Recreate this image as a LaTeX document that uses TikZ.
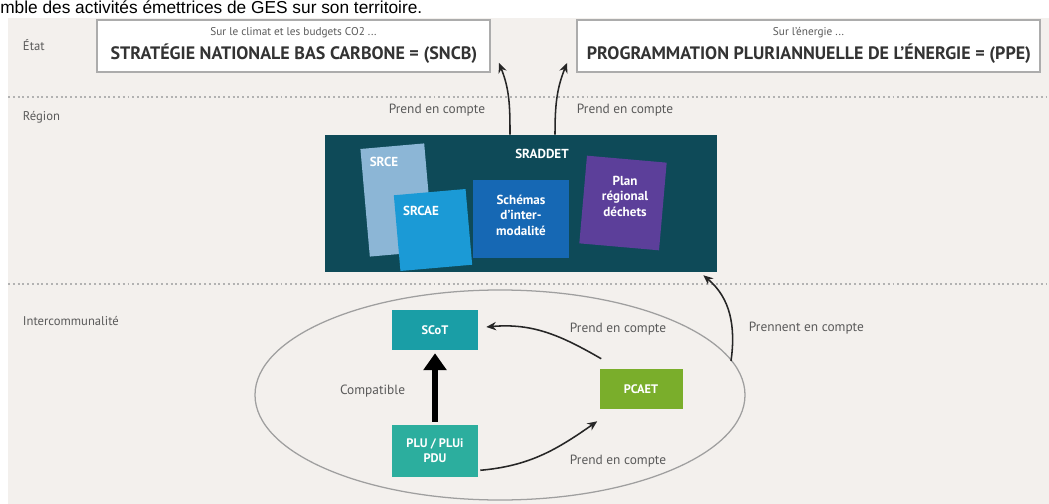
\documentclass[tikz,border=0pt]{standalone}
\usepackage{fontspec}
\setmainfont{PT Sans}
\newfontfamily\arialf{Liberation Sans}
\usetikzlibrary{arrows.meta}
\def\PX{0.025cm}
\definecolor{bgc}{HTML}{F3F0ED}
\definecolor{labc}{HTML}{5A5A5A}
\definecolor{sradc}{HTML}{0E4A58}
\definecolor{srcec}{HTML}{8CB6D6}
\definecolor{srcaec}{HTML}{1B9AD6}
\definecolor{schc}{HTML}{1668B4}
\definecolor{planc}{HTML}{5C3F9A}
\definecolor{scotc}{HTML}{1A9EA6}
\definecolor{pluc}{HTML}{2CAE9E}
\definecolor{pcaetc}{HTML}{7AAE2B}
\tikzset{
  lvl/.style={anchor=west, text=labc, font=\fontsize{9}{10}\selectfont},
  lab/.style={text=labc, font=\fontsize{9.5}{11}\selectfont},
  topbox/.style={draw=gray!65, line width=1.3pt, fill=white, align=center, inner sep=0pt},
  bigt/.style={text=black!80, font=\bfseries\fontsize{12.8}{14}\selectfont},
  smallt/.style={text=labc, font=\fontsize{8}{9}\selectfont},
  sub/.style={white, font=\bfseries\fontsize{9.3}{11}\selectfont, align=center},
  card/.style={inner sep=0pt, align=center},
  ibox/.style={inner sep=0pt, text=white, font=\bfseries\fontsize{8.8}{10.5}\selectfont, align=center},
  conn/.style={-{Stealth[length=7pt,width=6pt]}, line width=1.1pt, black!85},
  sep/.style={gray!60, dotted, line width=1.4pt}
}
\begin{document}
\begin{tikzpicture}[x=0.025cm, y=-0.025cm]
\useasboundingbox (0,0) rectangle (1049,504);
\fill[white] (0,0) rectangle (1049,504);
\fill[bgc] (8,18) rectangle (1049,504);
% top text
\node[anchor=base west, inner sep=0pt, font=\arialf\fontsize{12.3}{14}\selectfont] (toptxt) at (0,13.5) {mble des activités émettrices de GES sur son territoire.};
% level labels
\node[lvl] (etat) at (18,45) {État};
\node[lvl] (region) at (18,117) {Région};
\node[lvl] (interco) at (18,321) {Intercommunalité};
% separators
\draw[sep] (8,97) -- (1049,97);
\draw[sep] (8,284) -- (1049,284);
% top boxes
\node[topbox, minimum width=393*\PX, minimum height=52*\PX] (sncb) at (293.5,46) {};
\node[smallt] (sncbt) at (293.5,33) {Sur le climat et les budgets CO2 ...};
\node[bigt] (sncbb) at (294,54) {STRATÉGIE NATIONALE BAS CARBONE = (SNCB)};
\node[topbox, minimum width=463*\PX, minimum height=52*\PX] (ppe) at (808.5,46) {};
\node[smallt] (ppet) at (808.5,33) {Sur l'énergie ...};
\node[bigt] (ppeb) at (809,54) {PROGRAMMATION PLURIANNUELLE DE L'ÉNERGIE = (PPE)};
% SRADDET
\node[fill=sradc, minimum width=392*\PX, minimum height=137*\PX, inner sep=0pt] (srad) at (521,203.5) {};
\node[sub] (sradt) at (542,154) {SRADDET};
\node[card, fill=srcec, minimum width=64*\PX, minimum height=108*\PX, rotate=5] (srce) at (397,200) {};
\node[sub] (srcet) at (384,162) {SRCE};
\node[card, fill=srcaec, minimum width=72*\PX, minimum height=76*\PX, rotate=5] (srcae) at (433,230) {};
\node[sub] (srcaet) at (421,211) {SRCAE};
\node[card, fill=schc, minimum width=96*\PX, minimum height=78*\PX] (sch) at (521,219) {};
\node[sub] (scht) at (521,215) {Schémas\\d'inter-\\modalité};
\node[card, fill=planc, minimum width=80*\PX, minimum height=88*\PX, rotate=-5] (plan) at (623,203) {};
\node[sub] (plant) at (625,196) {Plan\\régional\\déchets};
% arrows to top
\draw[conn] ([xshift=-11*\PX]srad.north) to[out=90,in=-68] ([xshift=8*\PX, yshift=10*\PX]sncb.south east);
\draw[conn] ([xshift=34*\PX]srad.north) to[out=90,in=-112] ([xshift=-9*\PX, yshift=10*\PX]ppe.south west);
\node[lab, anchor=east] (pc1) at (490,110) {Prend en compte};
\node[lab, anchor=west] (pc2) at (572,110) {Prend en compte};
% ellipse
\draw[gray!75, line width=0.9pt] (500,395) ellipse [x radius=245, y radius=105];
\coordinate (ellpt) at (731,361);
% intercommunalite nodes
\node[ibox, fill=scotc, minimum width=86*\PX, minimum height=40*\PX] (scot) at (435,330) {SCoT};
\node[ibox, fill=pluc, minimum width=86*\PX, minimum height=52*\PX] (plu) at (435,451) {PLU / PLUi\\PDU};
\node[ibox, fill=pcaetc, minimum width=83*\PX, minimum height=40*\PX] (pcaet) at (641,389) {PCAET};
% connectors
\draw[-{Triangle[length=12pt,width=16pt]}, line width=4.2pt, black] ([yshift=3*\PX]plu.north) -- ([yshift=-3*\PX]scot.south);
\node[lab, anchor=east] (compat) at (410,391) {Compatible};
\draw[conn] ([xshift=2*\PX, yshift=10*\PX]pcaet.north west) to[out=150,in=5] ([xshift=8*\PX, yshift=3*\PX]scot.east);
\node[lab, anchor=west] (pc3) at (565,329) {Prend en compte};
\draw[conn] ([xshift=2*\PX, yshift=7*\PX]plu.south east) to[out=5,in=215] ([xshift=-2*\PX, yshift=-12*\PX]pcaet.south west);
\node[lab, anchor=west] (pc4) at (565,461) {Prend en compte};
\draw[conn] (ellpt) to[out=82,in=-40] ([xshift=-14*\PX, yshift=-3*\PX]srad.south east);
\node[lab, anchor=west] (pc5) at (744,328) {Prennent en compte};
\end{tikzpicture}
\end{document}
